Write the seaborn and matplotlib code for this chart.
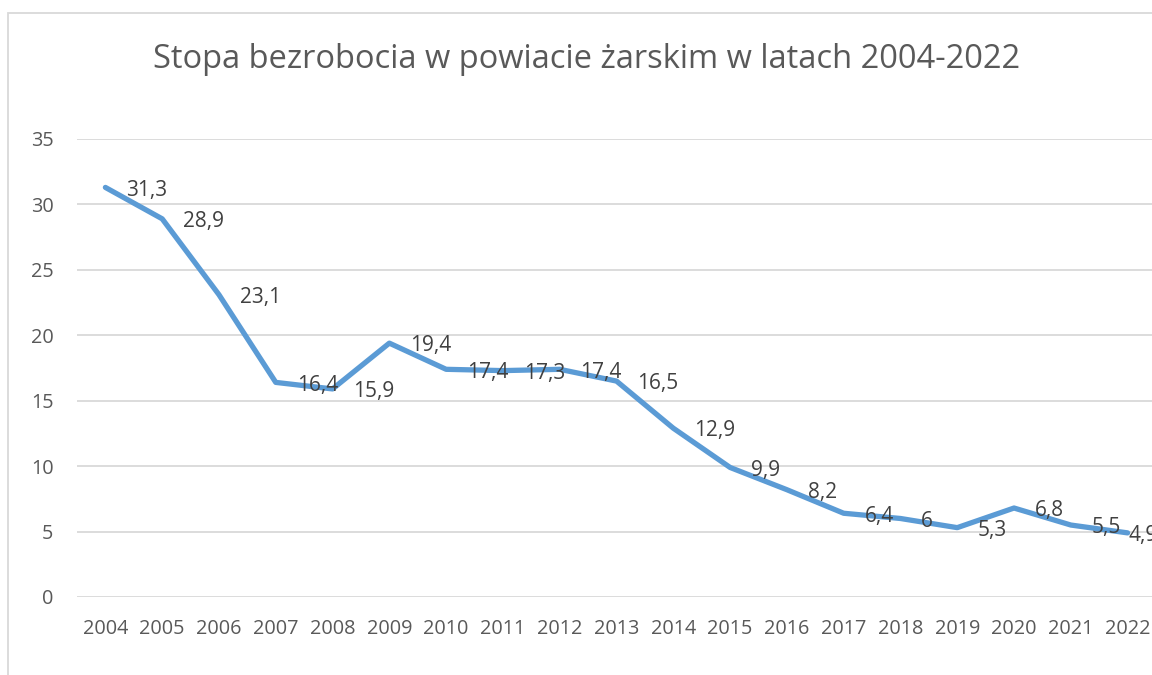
import matplotlib
matplotlib.use("Agg")
import matplotlib.pyplot as plt
import seaborn as sns
import pandas as pd
from matplotlib.patches import Rectangle

# dane: stopa bezrobocia (%)
lata = [2004, 2005, 2006, 2007, 2008, 2009, 2010, 2011, 2012, 2013,
        2014, 2015, 2016, 2017, 2018, 2019, 2020, 2021, 2022]
stopa = [31.3, 28.9, 23.1, 16.4, 15.9, 19.4, 17.4, 17.3, 17.4, 16.5,
         12.9, 9.9, 8.2, 6.4, 6.0, 5.3, 6.8, 5.5, 4.9]
y_ticks = [0, 5, 10, 15, 20, 25, 30, 35]
tytul = "Stopa bezrobocia w powiacie żarskim w latach 2004-2022"

df = pd.DataFrame({"rok": lata, "stopa": stopa})

sns.set_theme(style="white")
plt.rcParams['font.family'] = ['Open Sans', 'DejaVu Sans']

W, H = 1152, 675
fig = plt.figure(figsize=(W / 100, H / 100), dpi=100)

# ramka wykresu (jak w Excelu)
fig.patches.append(Rectangle((8 / W, -0.01), 1.1, 1 - 13 / H + 0.01,
                             transform=fig.transFigure, fill=False,
                             edgecolor='#D9D9D9', linewidth=1.3))

left, right = 77 / W, 1156 / W
bottom, top = 1 - 597 / H, 1 - 139 / H
ax = fig.add_axes([left, bottom, right - left, top - bottom])

sns.lineplot(data=df, x="rok", y="stopa", ax=ax, color='#5B9BD5',
             linewidth=3.8, zorder=3, solid_joinstyle='round')

ax.set_xlim(lata[0] - 0.5, lata[-1] + 0.5)
ax.set_ylim(0, 35)
ax.set_xticks(lata)
ax.set_xticklabels([str(r) for r in lata])
ax.set_yticks(y_ticks)
ax.set_xlabel('')
ax.set_ylabel('')

ax.grid(axis='y', color='#D9D9D9', linewidth=1.3, zorder=0)
ax.grid(axis='x', visible=False)
for s in ax.spines.values():
    s.set_visible(False)
ax.tick_params(axis='both', length=0, labelsize=14.3, colors='#595959')
ax.tick_params(axis='y', pad=17)
ax.tick_params(axis='x', pad=16)

# etykiety danych po prawej stronie punktów (ostatnia przesunięta jak w Excelu)
for i, (r, v) in enumerate(zip(lata, stopa)):
    txt = f"{v:g}".replace('.', ',')
    dx = 15 if i < len(lata) - 1 else 0.5
    ax.annotate(txt, (r, v), xytext=(dx, -2), textcoords='offset points',
                ha='left', va='center', fontsize=15, color='#404040',
                annotation_clip=False, zorder=4)

fig.text(0.5095, 1 - 60 / H, tytul, ha='center', va='center',
         fontsize=23.5, color='#595959')

fig.savefig("out.png", dpi=100)
